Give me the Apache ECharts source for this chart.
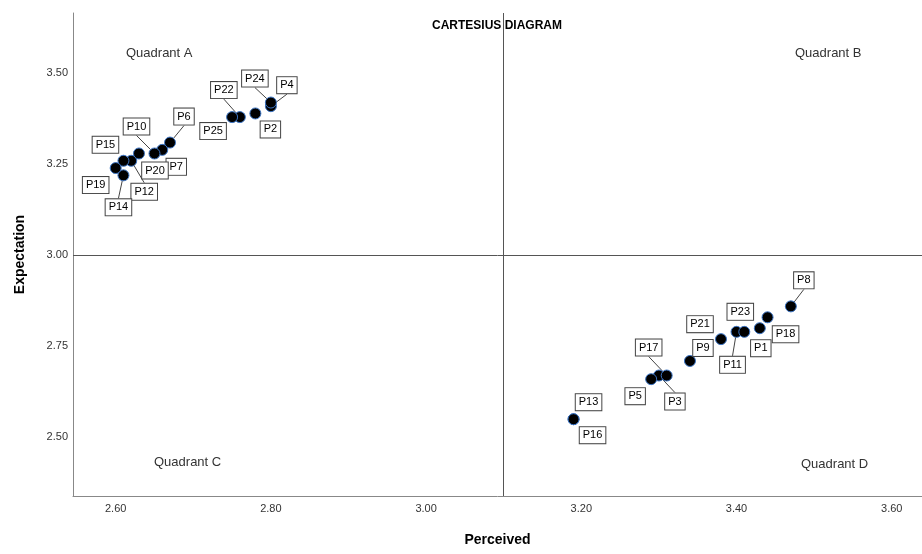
<!DOCTYPE html>
<html>
<head>
<meta charset="utf-8">
<script src="https://cdn.jsdelivr.net/npm/echarts@6/dist/echarts.min.js"></script>
<style>
  html, body { margin: 0; padding: 0; background: #fff; }
  #box { width: 922px; height: 554px; }
</style>
</head>
<body>
<div id="box"></div>
<script>
// attribute items
let names = ['P1', 'P2', 'P3', 'P4', 'P5', 'P6', 'P7', 'P8', 'P9', 'P10',
	'P11', 'P12', 'P13', 'P14', 'P15', 'P16', 'P17', 'P18', 'P19', 'P20',
	'P21', 'P22', 'P23', 'P24', 'P25'];
let perceived = [3.43, 2.78, 3.30, 2.80, 3.29, 2.67, 2.66, 3.47, 3.34, 2.65,
	3.40, 2.62, 3.19, 2.61, 2.61, 3.19, 3.31, 3.44, 2.60, 2.63,
	3.38, 2.76, 3.41, 2.80, 2.75];
let expectation = [2.80, 3.39, 2.67, 3.41, 2.66, 3.31, 3.29, 2.86, 2.71, 3.28,
	2.79, 3.26, 2.55, 3.22, 3.26, 2.55, 2.67, 2.83, 3.24, 3.28,
	2.77, 3.38, 2.79, 3.42, 3.38];

// mean lines
let meanPerceived = 3.10;
let meanExpectation = 3.00;

// tick labels
let xTicks = [2.60, 2.80, 3.00, 3.20, 3.40, 3.60];
let yTicks = [2.50, 2.75, 3.00, 3.25, 3.50];

// quadrant names
let quadrants = ['Quadrant A', 'Quadrant B', 'Quadrant C', 'Quadrant D'];

// label offsets (px) from the dot, just for placement
let offsets = {
	P1: [1, 20], P2: [15, 16], P3: [16, 26], P4: [16, -21], P5: [-16, 17],
	P6: [14, -26], P7: [14, 17], P8: [13, -26], P9: [13, -13], P10: [-18, -27],
	P11: [-4, 33], P12: [13, 31], P13: [15, -17], P14: [-5, 32], P15: [-18, -16],
	P16: [19, 16], P17: [-18, -28], P18: [18, 17], P19: [-20, 17], P20: [16, 17],
	P21: [-21, -15], P22: [-16, -27], P23: [-4, -20], P24: [-16, -24], P25: [-19, 14]
};

let font = '"Liberation Sans", Arial, sans-serif';

// only far-away labels get a leader line
let points = names.map(function(n, i) {
	let o = offsets[n];
	return {
		name: n,
		value: [perceived[i], expectation[i]],
		labelLine: { show: Math.abs(o[1]) > 20 }
	};
});

let chart = echarts.init(document.getElementById('box'));

let option = {
	animation: false,
	backgroundColor: '#fff',
	grid: { left: 73, right: 0, top: 13, bottom: 58 },
	xAxis: {
		type: 'value',
		min: 2.545,
		max: 3.639,
		name: 'Perceived',
		nameLocation: 'middle',
		nameGap: 37,
		nameTextStyle: { fontFamily: font, fontSize: 14, fontWeight: 'bold', color: '#000' },
		axisLine: { lineStyle: { color: '#888' } },
		axisTick: { show: false },
		splitLine: { show: false },
		axisLabel: {
			customValues: xTicks,
			formatter: function(v) { return v.toFixed(2); },
			fontFamily: font, fontSize: 11, color: '#333', margin: 7
		}
	},
	yAxis: {
		type: 'value',
		min: 2.339,
		max: 3.666,
		name: 'Expectation',
		nameLocation: 'middle',
		nameGap: 46,
		nameTextStyle: { fontFamily: font, fontSize: 14, fontWeight: 'bold', color: '#000' },
		axisLine: { show: true, lineStyle: { color: '#888' } },
		axisTick: { show: false },
		splitLine: { show: false },
		axisLabel: {
			customValues: yTicks,
			formatter: function(v) { return v.toFixed(2); },
			fontFamily: font, fontSize: 11, color: '#333', margin: 5
		}
	},
	graphic: [
		{ type: 'text', left: 432, top: 20, style: { text: 'CARTESIUS DIAGRAM', font: 'bold 12px ' + font, fill: '#000' } },
		{ type: 'text', left: 126, top: 47, style: { text: quadrants[0], font: '13px ' + font, fill: '#333' } },
		{ type: 'text', left: 795, top: 47, style: { text: quadrants[1], font: '13px ' + font, fill: '#333' } },
		{ type: 'text', left: 154, top: 456, style: { text: quadrants[2], font: '13px ' + font, fill: '#333' } },
		{ type: 'text', left: 801, top: 458, style: { text: quadrants[3], font: '13px ' + font, fill: '#333' } }
	],
	series: [{
		type: 'scatter',
		data: points,
		symbol: 'circle',
		symbolSize: 11,
		itemStyle: { color: '#000', borderColor: '#3b74c4', borderWidth: 1, opacity: 1 },
		label: {
			show: true,
			position: 'inside',
			formatter: '{b}',
			fontFamily: font,
			fontSize: 11,
			color: '#000',
			backgroundColor: '#fff',
			borderColor: '#444',
			borderWidth: 1,
			padding: [3, 3, 2, 3]
		},
		labelLine: {
			show: true,
			length2: 0,
			lineStyle: { color: '#444', width: 1 }
		},
		labelLayout: function(params) {
			let o = offsets[names[params.dataIndex]] || [0, 0];
			return { dx: o[0], dy: o[1] };
		},
		markLine: {
			silent: true,
			symbol: 'none',
			label: { show: false },
			lineStyle: { color: '#555', width: 1, type: 'solid' },
			data: [{ xAxis: meanPerceived }, { yAxis: meanExpectation }]
		},
		z: 3
	}]
};

chart.setOption(option);
</script>
</body>
</html>
